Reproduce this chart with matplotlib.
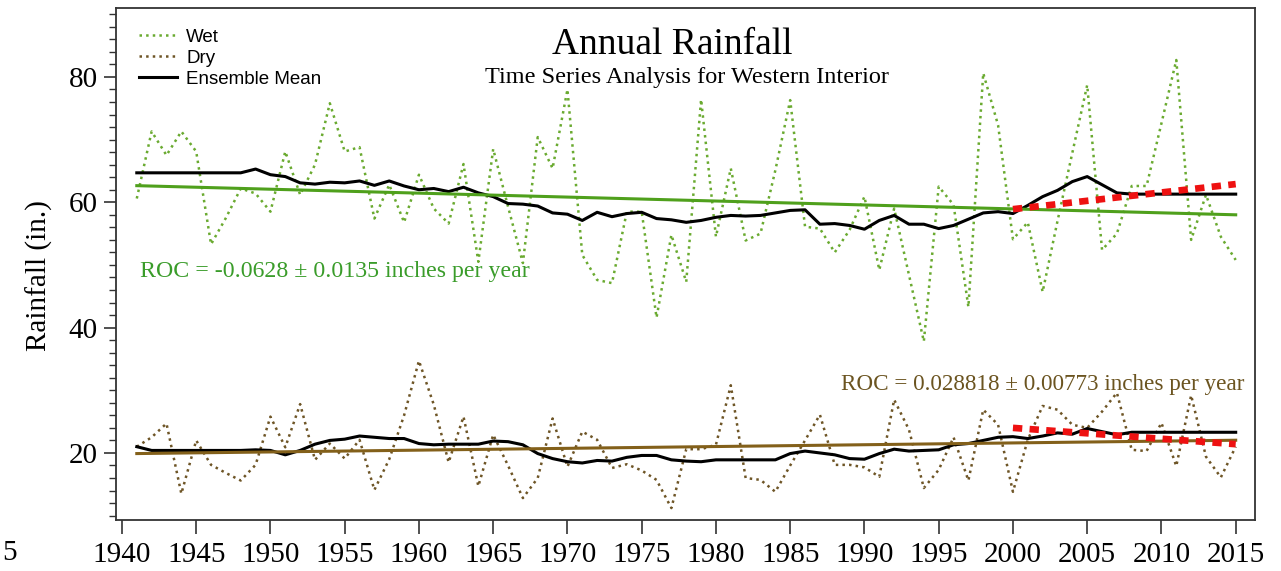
import matplotlib.pyplot as plt
from matplotlib.ticker import MultipleLocator
import numpy as np

# years of record
years = np.arange(1941, 2016)

# wet scenario, annual rainfall (in.)
wet = [60.6, 71.3, 67.5, 71.3, 68.1, 53.3, 57.5, 62.2, 61.4, 58.5,
       68.1, 61.2, 66.0, 75.8, 68.1, 68.8, 57.4, 62.8, 56.8, 64.4,
       59.0, 56.6, 66.1, 50.5, 68.5, 59.3, 50.3, 70.4, 65.4, 78.0,
       51.6, 47.6, 47.1, 58.5, 58.5, 41.6, 54.8, 47.3, 76.4, 54.5,
       65.4, 53.9, 55.0, 65.1, 76.3, 56.1, 55.8, 52.0, 55.6, 60.9,
       49.2, 59.0, 48.4, 37.8, 62.5, 59.6, 43.3, 80.6, 72.3, 54.1,
       56.8, 45.7, 57.0, 67.9, 78.7, 52.4, 55.0, 62.6, 62.6, 72.6,
       82.7, 54.0, 61.2, 54.5, 50.8]

wet_mean = [64.7, 64.7, 64.7, 64.7, 64.7, 64.7, 64.7, 64.7, 65.3, 64.4,
            64.1, 63.1, 62.9, 63.2, 63.1, 63.4, 62.7, 63.4, 62.6, 62.0,
            62.2, 61.7, 62.4, 61.5, 60.9, 59.8, 59.7, 59.4, 58.3, 58.1,
            57.1, 58.4, 57.7, 58.2, 58.4, 57.4, 57.2, 56.8, 57.1, 57.6,
            57.9, 57.8, 57.9, 58.3, 58.7, 58.8, 56.5, 56.6, 56.3, 55.7,
            57.1, 57.9, 56.5, 56.5, 55.8, 56.3, 57.3, 58.3, 58.5, 58.2,
            59.5, 60.9, 61.9, 63.3, 64.1, 62.8, 61.5, 61.3, 61.3, 61.3,
            61.3, 61.3, 61.3, 61.3, 61.3]

# dry scenario, annual rainfall (in.)
dry = [21.0, 22.5, 24.7, 13.5, 22.0, 18.1, 16.8, 15.6, 18.1, 25.8,
       20.9, 27.8, 18.9, 21.5, 19.1, 22.1, 14.1, 19.0, 26.0, 34.7,
       27.7, 18.5, 25.8, 14.7, 22.9, 18.0, 12.8, 16.0, 25.5, 17.8,
       23.4, 22.1, 17.6, 18.2, 17.2, 15.7, 11.2, 20.6, 20.6, 21.3,
       30.8, 16.0, 15.7, 13.8, 18.0, 22.0, 26.1, 18.1, 18.1, 17.7,
       16.2, 28.5, 23.7, 14.4, 17.3, 22.5, 15.6, 26.9, 24.5, 13.8,
       22.1, 27.5, 26.9, 24.5, 24.0, 26.6, 29.6, 20.5, 20.3, 24.8,
       17.9, 29.2, 19.4, 16.1, 21.0]

dry_mean = [21.0, 20.4, 20.4, 20.4, 20.4, 20.4, 20.4, 20.4, 20.5, 20.4,
            19.7, 20.4, 21.4, 22.0, 22.2, 22.7, 22.5, 22.3, 22.3, 21.5,
            21.3, 21.4, 21.4, 21.4, 21.9, 21.8, 21.3, 19.9, 19.1, 18.6,
            18.4, 18.8, 18.7, 19.3, 19.6, 19.6, 18.9, 18.7, 18.6, 18.9,
            18.9, 18.9, 18.9, 18.9, 19.9, 20.3, 20.0, 19.7, 19.1, 19.0,
            19.9, 20.6, 20.3, 20.4, 20.5, 21.3, 21.5, 22.0, 22.5, 22.6,
            22.3, 22.7, 23.2, 23.0, 23.9, 23.4, 22.9, 23.3, 23.3, 23.3,
            23.3, 23.3, 23.3, 23.3, 23.3]

# linear trends (end points 1941 and 2015)
trend_years = [1941, 2015]
wet_trend = [62.65, 58.0]
dry_trend = [19.9, 22.03]

# recent-period trends (red dashed)
proj_years = [2000, 2015]
wet_proj = [58.9, 62.9]
dry_proj = [24.0, 21.4]

wet_roc = "ROC = -0.0628 \u00b1 0.0135 inches per year"
dry_roc = "ROC = 0.028818 \u00b1 0.00773 inches per year"

serif = 'Liberation Serif'
sans = 'Liberation Sans'

fig = plt.figure(figsize=(12.81, 5.71), dpi=100)
ax = fig.add_axes([116/1281, 1 - 520/571, (1255-116)/1281, (520-8)/571])

ax.plot(years, wet, linestyle=':', color='#6aaa30', linewidth=1.8, label='Wet')
ax.plot(years, dry, linestyle=':', color='#6e5526', linewidth=1.8, label='Dry')
ax.plot(years, wet_mean, color='black', linewidth=2.2, label='Ensemble Mean')
ax.plot(years, dry_mean, color='black', linewidth=2.2)

ax.plot(trend_years, wet_trend, color='#4fa01c', linewidth=2.2)
ax.plot(trend_years, dry_trend, color='#83601a', linewidth=2.2)

ax.plot(proj_years, wet_proj, color='#ee1111', linewidth=4.8,
        dashes=(1.4, 1.1), solid_capstyle='butt')
ax.plot(proj_years, dry_proj, color='#ee1111', linewidth=4.8,
        dashes=(1.4, 1.1), solid_capstyle='butt')

ax.set_xlim(1939.6, 2016.3)
ax.set_ylim(9.3, 91.0)

ax.xaxis.set_major_locator(MultipleLocator(5))
ax.yaxis.set_major_locator(MultipleLocator(20))
ax.yaxis.set_minor_locator(MultipleLocator(2))

ax.tick_params(axis='x', which='major', direction='out', length=10,
               width=1.2, color='#333333', labelsize=21, pad=6)
ax.tick_params(axis='y', which='major', direction='out', length=9,
               width=1.2, color='#333333', labelsize=21, pad=4)
ax.tick_params(axis='y', which='minor', direction='out', length=5,
               width=1.0, color='#333333')
for lab in ax.get_xticklabels() + ax.get_yticklabels():
    lab.set_family(serif)

for sp in ax.spines.values():
    sp.set_color('#333333')
    sp.set_linewidth(1.3)

ax.set_ylabel('Rainfall (in.)', family=serif, fontsize=21)
ax.yaxis.set_label_coords(-0.055, 0.477)

ax.text(0.488, 0.928, 'Annual Rainfall', transform=ax.transAxes,
        ha='center', va='center', family=serif, fontsize=27)
ax.text(0.501, 0.864, 'Time Series Analysis for Western Interior',
        transform=ax.transAxes, ha='center', va='center', family=serif,
        fontsize=17.5)

ax.text(1941.2, 49.0, wet_roc, ha='left', va='center', family=serif,
        fontsize=17.2, color='#3a9c2a')
ax.text(2015.6, 31.0, dry_roc, ha='right', va='center', family=serif,
        fontsize=16.7, color='#6b5420')

leg = ax.legend(loc='upper left', bbox_to_anchor=(0.009, 0.985), frameon=False,
                prop={'family': sans, 'size': 13.5}, handlelength=2.0,
                handletextpad=0.5, labelspacing=0.2, borderaxespad=0.3)

# cut-off tick label at the left edge
fig.text(0.002, 1 - 553/571, '5', ha='left', va='center', family=serif,
         fontsize=21)

fig.savefig('out.png', dpi=100)
